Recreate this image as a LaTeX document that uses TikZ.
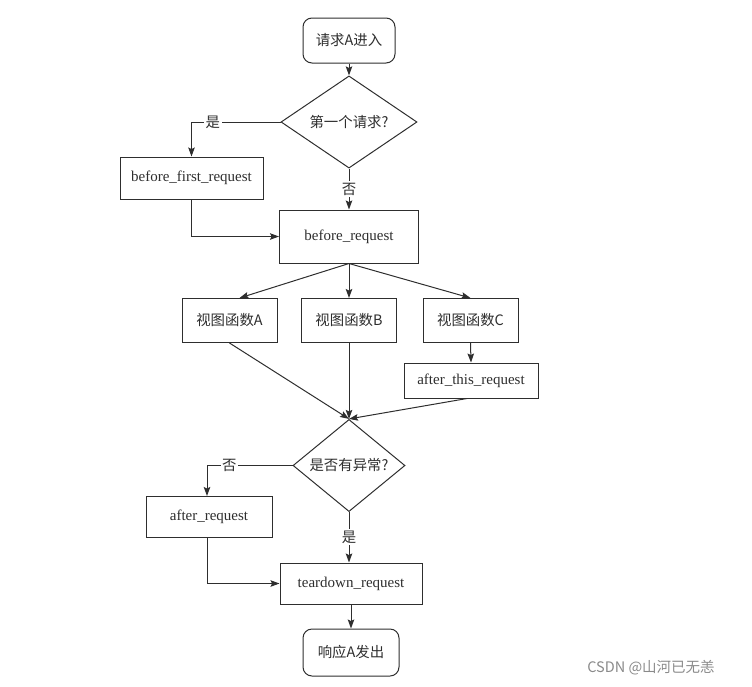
\documentclass[tikz,border=0pt]{standalone}
\usepackage{fontspec}
\setmainfont{Liberation Serif}
\newfontfamily\cjk{Noto Sans CJK SC}[Scale=0.96]
\newfontfamily\wmfont{Noto Sans CJK SC}
\usetikzlibrary{arrows.meta,shapes.geometric,calc}
\definecolor{ink}{HTML}{2E2E2E}
\definecolor{wm}{HTML}{8A8A8A}
\tikzset{
  every node/.style={font=\fontsize{15}{18}\selectfont, text=ink},
  box/.style={draw=ink, line width=1pt, rectangle, inner sep=2pt},
  term/.style={box, rounded corners=9pt},
  decide/.style={draw=ink, line width=1pt, diamond, inner sep=0pt},
  conn/.style={draw=ink, line width=1pt, -{Stealth[length=9pt,width=6.5pt,inset=1.5pt]}},
  lbl/.style={fill=white, inner sep=1.5pt, font=\cjk\fontsize{15}{18}\selectfont}
}
\begin{document}
\begin{tikzpicture}[x=1pt,y=-1pt]
\useasboundingbox (0,0) rectangle (752,686);

\node[term, minimum width=92pt, minimum height=45pt] (start) at (349,40.5) {\cjk 请求A进入};
\node[decide, minimum width=136pt, minimum height=64pt] (d1) at (349,122) {\cjk 第一个请求?};
\node[box, minimum width=143pt, minimum height=42pt] (bfr) at (191.5,178) {before\_first\_request};
\node[box, minimum width=139pt, minimum height=53pt] (br) at (349,236.5) {before\_request};
\node[box, minimum width=95pt, minimum height=44pt] (vA) at (229.5,320.5) {\cjk 视图函数A};
\node[box, minimum width=95pt, minimum height=44pt] (vB) at (349,320.5) {\cjk 视图函数B};
\node[box, minimum width=95pt, minimum height=44pt] (vC) at (470.5,320.5) {\cjk 视图函数C};
\node[box, minimum width=134pt, minimum height=35pt] (atr) at (471,380.5) {after\_this\_request};
\node[decide, minimum width=112pt, minimum height=75pt] (d2) at (349,465.5) {\cjk 是否有异常?};
\node[box, minimum width=126pt, minimum height=41pt] (ar) at (209,517) {after\_request};
\node[box, minimum width=142pt, minimum height=41pt] (td) at (351,583.5) {teardown\_request};
\node[term, minimum width=96pt, minimum height=47pt] (end) at (351,652.5) {\cjk 响应A发出};

\node[font=\wmfont\fontsize{14.5}{17}\selectfont, text=wm] (wmk) at (651,668) {CSDN @山河已无恙};

\path[conn] (start.south) -- (start.south |- d1.north);
\path[conn] (d1.west) -| node[lbl, pos=0.38] {是} (bfr.north);
\path[conn] (d1.south) -- node[lbl, pos=0.5] {否} (d1.south |- br.north);
\path[conn] (bfr.south) |- (br.west);
\path[conn] (br.south) -- ($(vA.north)+(10,0)$);
\path[conn] (br.south) -- (vB.north);
\path[conn] (br.south) -- (vC.north);
\path[conn] (vC.south) -- (atr.north);
\path[conn] (vA.south) -- (d2.north);
\path[conn] (vB.south) -- (d2.north);
\path[conn] ($(atr.south)+(-4,0)$) -- (d2.north);
\path[conn] (d2.west) -| node[lbl, pos=0.37] {否} ($(ar.north)+(-2,0)$);
\path[conn] (d2.south) -- node[lbl, pos=0.5] {是} (d2.south |- td.north);
\path[conn] ($(ar.south)+(-2,0)$) |- (td.west);
\path[conn] (td.south) -- (end.north);
\end{tikzpicture}
\end{document}
